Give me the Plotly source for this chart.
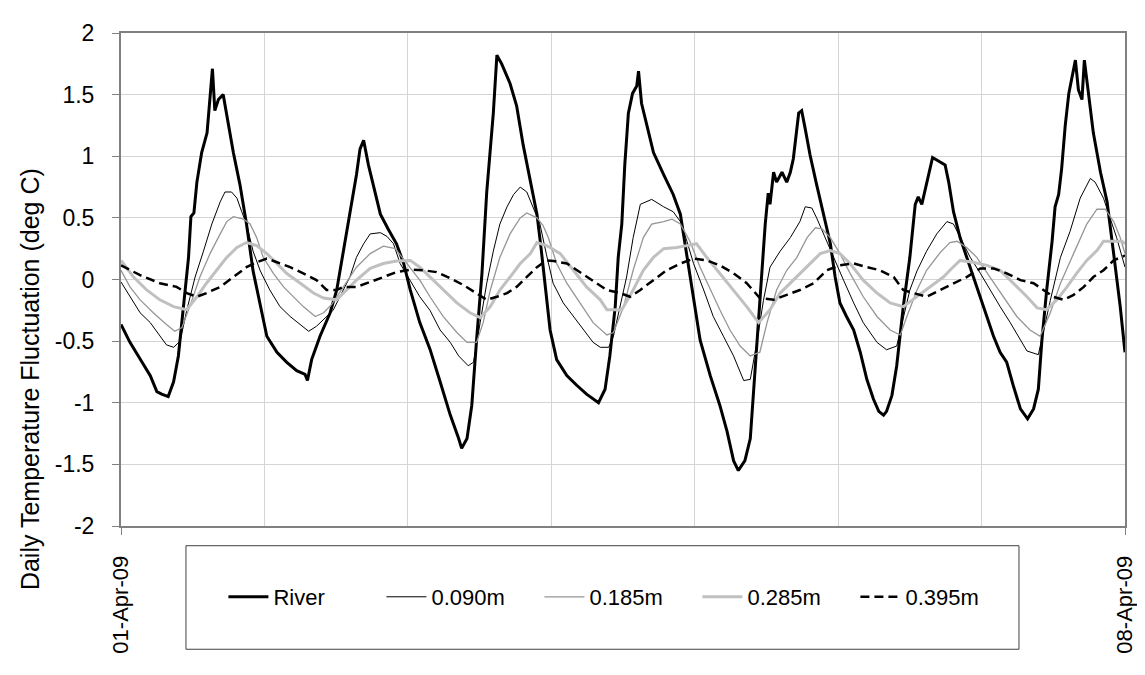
import pandas as pd
import plotly.graph_objects as go

# ---------------- data (hours after 01-Apr-09 00:00, deg C) ----------------
river_hours = [0, 1.5, 3.2, 4.9, 6.0, 6.8, 7.9, 8.8, 9.6, 10.4, 11.3, 11.7, 12.2, 12.7, 13.5, 14.4, 14.9,
               15.3, 15.7, 16.3, 17.1, 17.7, 18.8, 19.9, 21.0, 22.1, 23.3, 24.4, 26.1, 27.7, 29.4, 30.8,
               31.2, 31.9, 33.3, 35.0, 36.1, 37.2, 38.3, 39.4, 40.0, 40.6, 41.4, 42.2, 43.4, 44.7, 46.1,
               47.3, 48.4, 50.0, 51.7, 53.4, 55.1, 56.5, 57.0, 57.9, 58.7, 59.5, 60.4, 61.2, 62.3, 62.9,
               63.7, 65.1, 66.2, 67.3, 68.5, 69.6, 70.3, 71.0, 71.8, 72.9, 74.6, 76.3, 77.9, 79.9, 81.0,
               81.8, 82.7, 83.2, 83.8, 84.3, 84.9, 85.6, 86.3, 86.6, 87.1, 88.0, 89.1, 90.8, 92.4, 93.6,
               94.7, 95.8, 96.9, 98.6, 100.2, 101.4, 102.5, 103.3, 104.4, 105.3, 106.1, 106.8, 107.8,
               108.3, 108.6, 109.2, 109.7, 110.6, 111.4, 112.0, 112.5, 113.4, 113.9, 114.5, 115.3, 116.4,
               117.5, 118.7, 119.5, 120.3, 121.4, 122.6, 123.7, 124.8, 125.9, 126.8, 127.6, 128.1, 129.0,
               129.8, 130.9, 132.0, 132.9, 133.4, 134.0, 134.8, 135.8, 136.5, 137.1, 137.9, 138.5, 139.3,
               140.4, 141.5, 142.6, 143.8, 144.9, 146.0, 147.1, 148.2, 149.3, 150.5, 151.7, 152.7, 153.5,
               154.1, 154.9, 155.8, 156.3, 156.9, 157.4, 158.0, 158.6, 159.3, 159.7, 160.2, 160.8, 161.2,
               161.9, 162.7, 163.9, 165.0, 166.1, 167.2, 168.0]
river_vals = [-0.365, -0.51, -0.645, -0.78, -0.91, -0.93, -0.95, -0.83, -0.62, -0.22, 0.18, 0.51, 0.54, 0.79,
              1.03, 1.19, 1.46, 1.71, 1.37, 1.46, 1.50, 1.33, 1.03, 0.77, 0.45, 0.07, -0.22, -0.46, -0.59,
              -0.67, -0.74, -0.77, -0.82, -0.65, -0.46, -0.27, -0.085, 0.23, 0.55, 0.85, 1.06, 1.13, 0.93,
              0.77, 0.53, 0.41, 0.29, 0.13, -0.085, -0.35, -0.565, -0.83, -1.10, -1.29, -1.37, -1.29, -1.02,
              -0.49, 0.05, 0.71, 1.35, 1.82, 1.75, 1.59, 1.41, 1.09, 0.79, 0.53, 0.25, -0.085, -0.41, -0.65,
              -0.78, -0.86, -0.93, -1.0, -0.89, -0.62, -0.22, 0.18, 0.45, 0.93, 1.35, 1.51, 1.57, 1.69, 1.43,
              1.25, 1.03, 0.85, 0.69, 0.53, 0.18, -0.17, -0.49, -0.78, -1.02, -1.23, -1.47, -1.55, -1.47,
              -1.29, -0.75, -0.22, 0.45, 0.70, 0.61, 0.87, 0.79, 0.87, 0.79, 0.87, 0.98, 1.35, 1.37, 1.22,
              1.01, 0.77, 0.53, 0.29, 0.02, -0.19, -0.30, -0.41, -0.59, -0.81, -0.97, -1.07, -1.10, -1.07,
              -0.94, -0.70, -0.22, 0.18, 0.61, 0.67, 0.61, 0.79, 0.99, 0.97, 0.95, 0.93, 0.79, 0.55, 0.34,
              0.18, 0.02, -0.14, -0.30, -0.46, -0.59, -0.67, -0.86, -1.05, -1.13, -1.05, -0.89, -0.49,
              -0.085, 0.31, 0.59, 0.69, 0.90, 1.25, 1.51, 1.70, 1.78, 1.54, 1.46, 1.78, 1.51, 1.19, 0.87,
              0.63, 0.21, -0.22, -0.59]

d090_hours = [0, 1.5, 3.2, 4.9, 6.5, 7.6, 8.8, 9.9, 11.0, 12.4, 13.8, 15.2, 16.6, 17.4, 18.5, 19.4, 20.2,
              21.0, 22.1, 23.3, 24.9, 26.6, 28.3, 30.0, 31.4, 32.7, 34.4, 35.5, 37.2, 38.3, 39.4, 40.6,
              41.7, 43.4, 44.5, 45.6, 46.7, 48.4, 50.0, 51.7, 53.4, 55.1, 56.5, 58.1, 59.0, 60.1, 61.2,
              62.3, 63.4, 64.6, 65.7, 66.8, 67.9, 69.0, 70.1, 71.2, 72.3, 74.0, 75.7, 77.4, 79.0, 80.2,
              81.6, 82.4, 83.5, 84.6, 85.7, 86.9, 88.8, 90.8, 92.4, 93.6, 94.7, 95.8, 97.5, 99.1, 100.8,
              102.5, 104.2, 105.3, 106.4, 107.5, 108.6, 110.3, 112.0, 113.6, 114.5, 115.6, 116.4, 117.8,
              119.2, 120.9, 122.6, 124.2, 126.5, 128.1, 129.8, 130.9, 132.0, 133.2, 134.8, 136.5, 138.2,
              139.3, 140.4, 142.1, 143.8, 145.4, 147.1, 148.8, 150.5, 151.6, 153.5, 154.4, 155.5, 157.2,
              158.8, 160.5, 162.2, 163.0, 164.4, 165.5, 166.6, 168.0]
d090_vals = [-0.02, -0.14, -0.27, -0.35, -0.46, -0.53, -0.55, -0.50, -0.25, 0.02, 0.23, 0.45, 0.63, 0.71,
             0.71, 0.66, 0.55, 0.45, 0.23, 0.07, -0.085, -0.22, -0.30, -0.37, -0.42, -0.38, -0.30, -0.25,
             -0.085, 0.02, 0.18, 0.29, 0.37, 0.38, 0.35, 0.29, 0.13, -0.005, -0.14, -0.25, -0.41, -0.51,
             -0.62, -0.70, -0.67, -0.35, -0.03, 0.23, 0.45, 0.59, 0.69, 0.75, 0.71, 0.58, 0.45, 0.20,
             -0.03, -0.19, -0.30, -0.41, -0.51, -0.55, -0.55, -0.46, -0.22, 0.02, 0.34, 0.61, 0.65, 0.59,
             0.55, 0.47, 0.31, 0.13, -0.085, -0.30, -0.46, -0.62, -0.82, -0.81, -0.51, -0.17, 0.10, 0.23,
             0.34, 0.47, 0.59, 0.58, 0.50, 0.34, 0.18, -0.005, -0.19, -0.35, -0.51, -0.57, -0.54, -0.30,
             -0.085, 0.07, 0.23, 0.37, 0.47, 0.45, 0.34, 0.18, 0.05, -0.085, -0.22, -0.35, -0.49, -0.58,
             -0.61, -0.41, -0.17, 0.18, 0.39, 0.66, 0.82, 0.79, 0.66, 0.50, 0.34, 0.10]

d185_hours = [0, 1.5, 3.2, 5.4, 7.6, 9.0, 10.2, 11.5, 13.2, 14.9, 16.6, 17.7, 18.8, 20.5, 21.6, 22.7, 23.8,
              25.5, 27.2, 28.8, 30.5, 32.5, 33.9, 35.3, 37.2, 39.4, 41.7, 43.9, 45.9, 47.0, 48.4, 50.0,
              51.7, 53.9, 56.2, 57.9, 59.5, 60.6, 61.8, 63.4, 65.1, 66.8, 67.9, 69.6, 70.6, 71.5, 72.9,
              74.6, 76.8, 79.0, 81.3, 82.4, 84.1, 85.7, 87.4, 88.8, 90.8, 92.2, 93.6, 95.2, 96.9, 98.6,
              100.2, 101.9, 103.6, 105.3, 106.9, 108.1, 109.7, 111.4, 113.1, 114.8, 116.2, 117.3, 118.7,
              120.3, 122.0, 124.2, 126.5, 128.7, 130.4, 131.5, 133.2, 134.8, 137.1, 138.7, 139.9, 141.5,
              143.2, 145.4, 147.7, 149.9, 152.1, 153.8, 155.5, 157.2, 159.4, 161.6, 163.3, 164.7, 166.1,
              167.2, 168.0]
d185_vals = [0.075, -0.06, -0.165, -0.27, -0.365, -0.42, -0.39, -0.22, 0.02, 0.21, 0.37, 0.47, 0.51, 0.49,
             0.45, 0.34, 0.18, 0.05, -0.06, -0.14, -0.22, -0.30, -0.27, -0.20, -0.06, 0.10, 0.21, 0.27,
             0.25, 0.18, 0.10, -0.005, -0.14, -0.30, -0.43, -0.51, -0.51, -0.35, -0.085, 0.18, 0.37, 0.50,
             0.54, 0.50, 0.44, 0.34, 0.13, -0.03, -0.19, -0.35, -0.45, -0.43, -0.22, 0.075, 0.34, 0.45,
             0.47, 0.49, 0.45, 0.31, 0.10, -0.085, -0.245, -0.41, -0.54, -0.62, -0.59, -0.35, -0.085,
             0.075, 0.18, 0.34, 0.42, 0.41, 0.34, 0.21, 0.05, -0.14, -0.30, -0.41, -0.45, -0.30, -0.085,
             0.075, 0.22, 0.30, 0.31, 0.26, 0.18, 0.02, -0.14, -0.30, -0.41, -0.46, -0.27, -0.03, 0.21,
             0.45, 0.57, 0.57, 0.47, 0.34, 0.21]

d285_hours = [0, 2.1, 4.3, 6.5, 8.8, 11.0, 12.7, 14.3, 16.0, 17.7, 19.4, 21.0, 22.7, 24.4, 26.1, 27.7,
              30.0, 32.2, 33.9, 36.1, 37.2, 39.4, 41.7, 43.9, 46.1, 48.4, 50.0, 51.7, 53.9, 56.2, 58.4,
              60.1, 61.8, 63.4, 65.1, 66.8, 68.5, 69.6, 71.2, 71.8, 73.5, 75.7, 77.9, 80.2, 81.3, 83.8,
              85.7, 87.4, 89.1, 90.8, 93.0, 94.7, 96.3, 98.0, 100.2, 102.5, 104.7, 106.7, 108.6, 110.3,
              112.5, 114.8, 117.0, 118.7, 120.3, 122.0, 124.2, 126.5, 128.7, 130.9, 133.2, 135.4, 137.6,
              138.7, 140.4, 142.6, 144.9, 147.1, 149.3, 151.6, 153.3, 154.9, 156.6, 158.3, 159.9, 161.6,
              163.3, 164.4, 166.1, 167.5, 168.0]
d285_vals = [0.155, 0.02, -0.085, -0.165, -0.22, -0.245, -0.14, -0.03, 0.075, 0.18, 0.26, 0.30, 0.275,
             0.21, 0.13, 0.05, -0.03, -0.11, -0.15, -0.165, -0.11, -0.005, 0.09, 0.13, 0.15, 0.155, 0.10,
             0.02, -0.085, -0.19, -0.27, -0.31, -0.22, -0.085, 0.02, 0.13, 0.21, 0.30, 0.275, 0.26, 0.21,
             0.075, -0.06, -0.165, -0.245, -0.245, -0.085, 0.075, 0.18, 0.25, 0.26, 0.275, 0.29, 0.18,
             0.05, -0.085, -0.22, -0.35, -0.245, -0.11, -0.005, 0.10, 0.21, 0.235, 0.21, 0.13, -0.005,
             -0.11, -0.19, -0.22, -0.14, -0.06, 0.02, 0.075, 0.155, 0.14, 0.115, 0.075, -0.03, -0.14,
             -0.23, -0.245, -0.165, -0.06, 0.05, 0.155, 0.235, 0.31, 0.31, 0.31, 0.29]

d395_hours = [0, 3.2, 6.5, 9.3, 11.0, 12.7, 14.3, 16.6, 18.8, 21.0, 22.7, 24.4, 26.1, 28.3, 30.5, 32.7,
              34.4, 36.1, 37.2, 39.4, 41.7, 43.9, 46.1, 48.4, 50.6, 52.8, 55.1, 57.3, 59.5, 61.2, 62.9,
              64.6, 66.2, 67.9, 69.6, 71.2, 72.4, 74.6, 76.8, 79.0, 81.3, 83.5, 85.2, 86.9, 89.1, 91.3,
              93.6, 95.8, 98.0, 100.2, 102.5, 104.7, 106.9, 109.2, 111.4, 113.6, 115.9, 118.1, 120.3,
              122.6, 124.8, 127.0, 129.3, 130.9, 132.6, 134.8, 137.1, 139.3, 141.5, 143.8, 146.0, 148.2,
              150.5, 152.7, 154.4, 156.0, 157.7, 159.4, 161.1, 162.7, 164.4, 166.1, 168.0]
d395_vals = [0.115, 0.035, -0.03, -0.06, -0.11, -0.14, -0.11, -0.06, 0.02, 0.10, 0.14, 0.17, 0.14, 0.10,
             0.05, -0.005, -0.085, -0.085, -0.06, -0.06, -0.02, 0.02, 0.06, 0.08, 0.075, 0.06, 0.01,
             -0.045, -0.11, -0.165, -0.14, -0.11, -0.06, 0.02, 0.10, 0.155, 0.15, 0.13, 0.06, -0.005,
             -0.085, -0.11, -0.14, -0.085, -0.005, 0.075, 0.13, 0.17, 0.155, 0.115, 0.05, -0.03, -0.15,
             -0.165, -0.125, -0.085, -0.03, 0.075, 0.115, 0.13, 0.10, 0.075, 0.02, -0.085, -0.11, -0.14,
             -0.085, -0.03, 0.02, 0.09, 0.09, 0.05, -0.005, -0.03, -0.085, -0.14, -0.165, -0.125, -0.06,
             0.02, 0.075, 0.155, 0.195]

start_date = "2009-04-01"
end_date = "2009-04-08"
y_tick_vals = [-2, -1.5, -1, -0.5, 0, 0.5, 1, 1.5, 2]
y_tick_text = ["-2", "-1.5", "-1", "-0.5", "0", "0.5", "1", "1.5", "2"]
y_title = "Daily Temperature Fluctuation (deg C)"

# ---------------- figure ----------------
base = pd.Timestamp(start_date)


def to_time(hours):
    return base + pd.to_timedelta(hours, unit="h")


FONT = "Liberation Sans, Arial, sans-serif"

fig = go.Figure()
fig.add_trace(go.Scatter(x=to_time(river_hours), y=river_vals, name="River", mode="lines",
                         line=dict(color="#000000", width=3)))
fig.add_trace(go.Scatter(x=to_time(d090_hours), y=d090_vals, name="0.090m", mode="lines",
                         line=dict(color="#000000", width=1)))
fig.add_trace(go.Scatter(x=to_time(d185_hours), y=d185_vals, name="0.185m", mode="lines",
                         line=dict(color="#969696", width=1.3)))
fig.add_trace(go.Scatter(x=to_time(d285_hours), y=d285_vals, name="0.285m", mode="lines",
                         line=dict(color="#c0c0c0", width=3)))
fig.add_trace(go.Scatter(x=to_time(d395_hours), y=d395_vals, name="0.395m", mode="lines",
                         line=dict(color="#000000", width=2.5, dash="9px,5px")))

fig.update_layout(
    width=1145, height=675,
    margin=dict(l=113, r=28, t=18, b=157, pad=0),
    paper_bgcolor="white", plot_bgcolor="white",
    font=dict(family=FONT, color="#000000"),
    showlegend=True,
    legend=dict(orientation="h", x=0.102, xanchor="left", y=-0.144, yanchor="middle",
                font=dict(size=22, family=FONT), bgcolor="rgba(0,0,0,0)", borderwidth=0,
                entrywidth=103, itemwidth=40, traceorder="normal"),
)

fig.update_xaxes(
    range=[pd.Timestamp(start_date), pd.Timestamp(end_date)],
    type="date",
    tickvals=[pd.Timestamp(start_date), pd.Timestamp(end_date)],
    tickformat="%d-%b-%y", tickangle=-90,
    tickfont=dict(size=22, family=FONT),
    ticks="outside", ticklen=7, tickcolor="#808080", ticklabelstandoff=12,
    showgrid=False, zeroline=False,
    showline=True, linecolor="#808080", linewidth=2, mirror=True,
    minor=dict(dtick=86400000, showgrid=True, gridcolor="#d4d4d4", gridwidth=1, ticks=""),
)
fig.update_yaxes(
    range=[-2, 2], tickvals=y_tick_vals, ticktext=y_tick_text,
    tickfont=dict(size=23, family=FONT),
    ticks="outside", ticklen=7, tickcolor="#808080", ticklabelstandoff=13,
    showgrid=True, gridcolor="#d4d4d4", gridwidth=1, zeroline=False,
    showline=True, linecolor="#808080", linewidth=2, mirror=True,
)

# y-axis title placed as in the reference (offset below plot centre)
fig.add_annotation(text=y_title, xref="paper", yref="paper", x=-0.0906, y=0.298,
                   xanchor="center", yanchor="middle", textangle=-90, showarrow=False,
                   font=dict(size=25, family=FONT, color="#000000"))

# legend frame
fig.add_shape(type="rect", xref="paper", yref="paper", x0=0.0647, x1=0.8944, y0=-0.25, y1=-0.04,
              line=dict(color="#404040", width=1), fillcolor="rgba(0,0,0,0)", layer="above")

fig.write_html("out.html")
